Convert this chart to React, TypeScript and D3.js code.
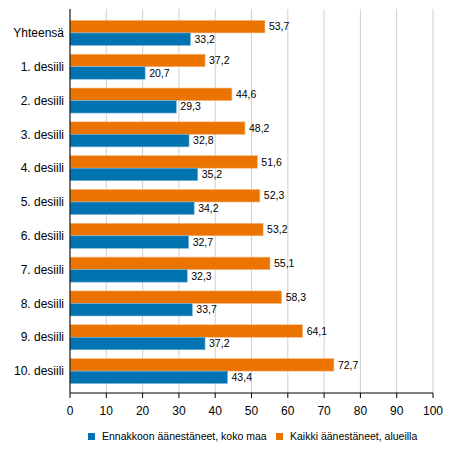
import React from 'react';
import * as d3 from 'd3';

const categories = [
  'Yhteensä', '1. desiili', '2. desiili', '3. desiili', '4. desiili', '5. desiili',
  '6. desiili', '7. desiili', '8. desiili', '9. desiili', '10. desiili',
];
const allVoters = [53.7, 37.2, 44.6, 48.2, 51.6, 52.3, 53.2, 55.1, 58.3, 64.1, 72.7];
const advanceVoters = [33.2, 20.7, 29.3, 32.8, 35.2, 34.2, 32.7, 32.3, 33.7, 37.2, 43.4];
const xTicks = [0, 10, 20, 30, 40, 50, 60, 70, 80, 90, 100];

const seriesNames = ['Ennakkoon äänestäneet, koko maa', 'Kaikki äänestäneet, alueilla'];
const BLUE = '#0073b0';
const ORANGE = '#eb7300';

const W = 454;
const H = 454;
const left = 70;
const right = 433;
const top = 16;
const bottom = 388;
const axisY = 393;
const gridTop = 9;

const fmt = (v: number) => v.toFixed(1).replace('.', ',');

const App: React.FC = () => {
  const x = d3.scaleLinear().domain([0, 100]).range([left, right]);
  const y = d3.scaleBand<string>()
    .domain(categories)
    .range([top, bottom])
    .paddingInner(0.26)
    .paddingOuter(0.13);
  const sub = d3.scaleBand<string>()
    .domain(['all', 'adv'])
    .range([0, y.bandwidth()])
    .padding(0);
  const bh = sub.bandwidth();

  const font = 'Arial, "Liberation Sans", sans-serif';

  return (
    <svg width={W} height={H} style={{ position: 'absolute', left: 0, top: 0, background: '#fff' }}
      fontFamily={font}>
      {xTicks.map(t => (
        <line key={'g' + t} x1={x(t)} x2={x(t)} y1={gridTop} y2={axisY} stroke="#d0d0d0" strokeWidth={1} />
      ))}
      {categories.map((c, i) => {
        const y0 = y(c) as number;
        const ya = y0 + (sub('all') as number);
        const yb = y0 + (sub('adv') as number);
        return (
          <g key={c}>
            <rect x={x(0)} y={ya} width={x(allVoters[i]) - x(0)} height={bh}
              fill={ORANGE} stroke="#f5b980" strokeWidth={0.6} />
            <rect x={x(0)} y={yb} width={x(advanceVoters[i]) - x(0)} height={bh}
              fill={BLUE} stroke="#80b9d8" strokeWidth={0.6} />
            <text x={x(allVoters[i]) + 4} y={ya + bh / 2} dy="0.35em" fontSize={10.5} fill="#000">
              {fmt(allVoters[i])}
            </text>
            <text x={x(advanceVoters[i]) + 4} y={yb + bh / 2} dy="0.35em" fontSize={10.5} fill="#000">
              {fmt(advanceVoters[i])}
            </text>
            <text x={left - 6} y={y0 + y.bandwidth() / 2} dy="0.35em" textAnchor="end" fontSize={12} fill="#000">
              {c}
            </text>
          </g>
        );
      })}
      <line x1={left} x2={left} y1={gridTop} y2={axisY} stroke="#000" strokeWidth={1} />
      <line x1={left} x2={right} y1={axisY} y2={axisY} stroke="#000" strokeWidth={1} />
      {xTicks.map(t => (
        <g key={'t' + t}>
          <line x1={x(t)} x2={x(t)} y1={axisY} y2={axisY + 5} stroke="#000" strokeWidth={1} />
          <text x={x(t)} y={411} dy="0.35em" textAnchor="middle" fontSize={12} fill="#000">{t}</text>
        </g>
      ))}
      <g>
        <rect x={88} y={433} width={7} height={7} fill={BLUE} />
        <text x={102} y={436.5} dy="0.35em" fontSize={10.5} fill="#000">{seriesNames[0]}</text>
        <rect x={276} y={433} width={7} height={7} fill={ORANGE} />
        <text x={290} y={436.5} dy="0.35em" fontSize={10.5} fill="#000">{seriesNames[1]}</text>
      </g>
    </svg>
  );
};

export default App;
